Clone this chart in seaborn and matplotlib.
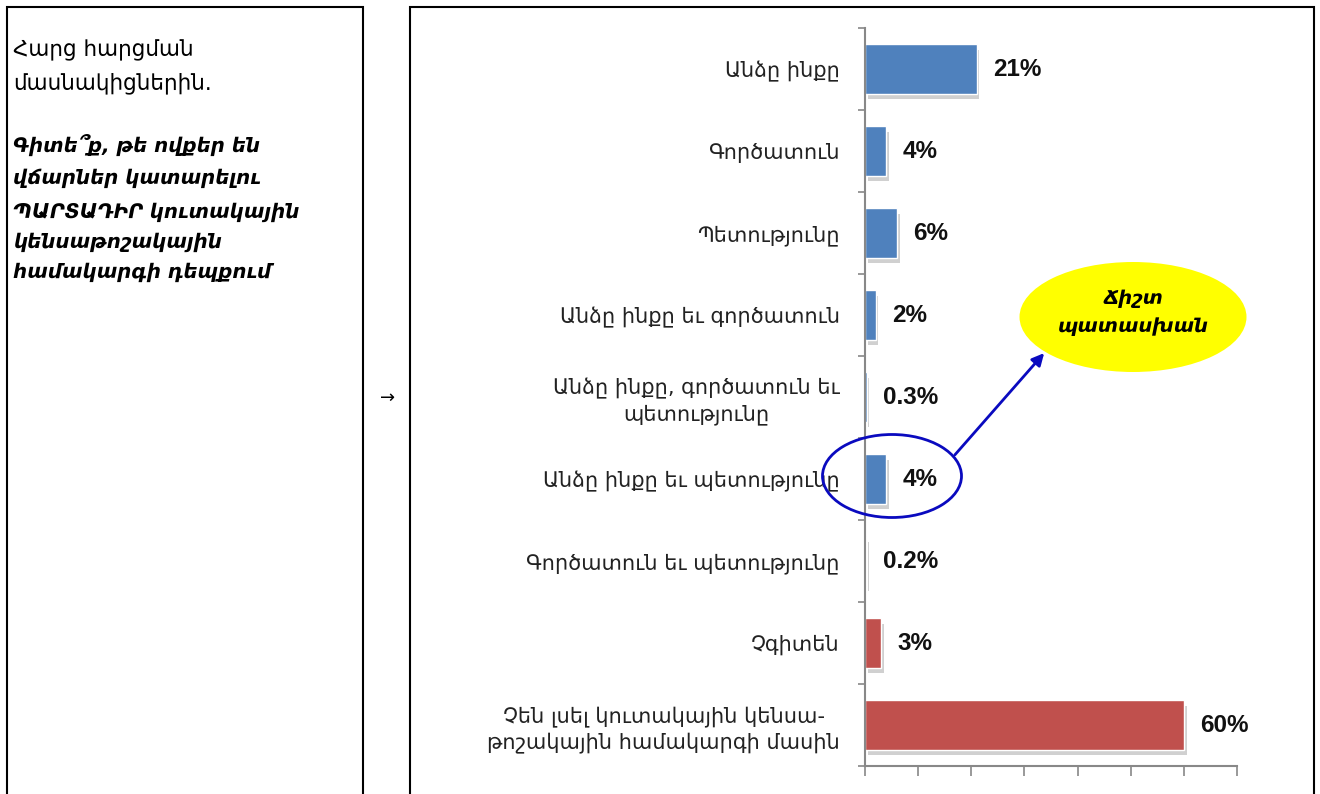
import matplotlib
matplotlib.use("Agg")
import matplotlib.pyplot as plt
import matplotlib.patheffects as pe
from matplotlib.patches import Rectangle, Ellipse, FancyArrowPatch
import seaborn as sns
import pandas as pd
import numpy as np

# ---- data ----
categories = [
    "Անձը ինքը",
    "Գործատուն",
    "Պետությունը",
    "Անձը ինքը եւ գործատուն",
    "Անձը ինքը, գործատուն եւ\nպետությունը",
    "Անձը ինքը եւ պետությունը",
    "Գործատուն եւ պետությունը",
    "Չգիտեն",
    "Չեն լսել կուտակային կենսա-\nթոշակային համակարգի մասին",
]
values = [21, 4, 6, 2, 0.3, 4, 0.2, 3, 60]
bar_colors = ["#4F81BD"] * 7 + ["#C0504D"] * 2

intro_lines = ["Հարց հարցման", "մասնակիցներին."]
question_lines = ["Գիտե՞ք, թե ովքեր են", "վճարներ կատարելու",
                  "ՊԱՐՏԱԴԻՐ կուտակային", "կենսաթոշակային",
                  "համակարգի դեպքում"]
callout_lines = ["Ճիշտ", "պատասխան"]

sns.set_theme(style="white")
plt.rcParams["font.family"] = ["DejaVu Sans"]

W, H = 1320, 794
fig = plt.figure(figsize=(W / 100, H / 100), dpi=100)

def fx(x):
    return x / W

def fy(y):
    return 1 - y / H

ax_l, ax_r, ax_t, ax_b = 865, 1237, 28, 766
ax = fig.add_axes([fx(ax_l), fy(ax_b), (ax_r - ax_l) / W, (ax_b - ax_t) / H])

df = pd.DataFrame({"cat": categories, "val": values})
sns.barplot(data=df, x="val", y="cat", hue="cat", palette=bar_colors,
            legend=False, orient="h", width=0.6, ax=ax, saturation=1)

for p in ax.patches:
    p.set_path_effects([pe.SimplePatchShadow(offset=(2, -4), shadow_rgbFace="#8a8a8a", alpha=0.4),
                        pe.Normal()])

ax.set_xlim(0, 70)
ax.set_ylim(len(categories) - 0.5, -0.5)
ax.set_xlabel("")
ax.set_ylabel("")
ax.set_xticks(np.arange(0, 71, 10))
ax.set_xticklabels([])
ax.set_yticks(range(len(categories)))
ax.set_yticklabels(categories, fontsize=15, color="#222222",
                   multialignment="center", linespacing=1.3)
ax.set_yticks(np.arange(-0.5, len(categories), 1), minor=True)
ax.tick_params(axis="y", which="major", length=0, pad=18)
ax.tick_params(axis="y", which="minor", length=5, width=1.2, color="#888888", left=True)
ax.tick_params(axis="x", which="major", length=7, width=1.2, color="#888888", bottom=True)
for s in ["top", "right"]:
    ax.spines[s].set_visible(False)
for s in ["left", "bottom"]:
    ax.spines[s].set_color("#888888")
    ax.spines[s].set_linewidth(1.5)
ax.set_facecolor("none")

for i, v in enumerate(values):
    ax.annotate(f"{v:g}%", xy=(v, i), xytext=(12, 0), textcoords="offset points",
                ha="left", va="center", fontsize=17.5, fontweight="bold",
                family="Liberation Sans", color="#111111")

# ---- frames ----
fig.add_artist(Rectangle((fx(7), -0.1), fx(363) - fx(7), fy(7) + 0.1,
                         transform=fig.transFigure, fill=False, lw=1.5, ec="black"))
fig.add_artist(Rectangle((fx(410), -0.1), fx(1314) - fx(410), fy(7) + 0.1,
                         transform=fig.transFigure, fill=False, lw=1.5, ec="black"))

# ---- left text ----
for line, y in zip(intro_lines, [50, 83]):
    fig.text(fx(13), fy(y), line, fontsize=15.5, ha="left", va="center", color="black")
for line, y in zip(question_lines, [145, 178, 212, 242, 272]):
    fig.text(fx(13), fy(y), line, fontsize=14.2, ha="left", va="center",
             fontweight="bold", style="italic", color="black")

fig.text(fx(388), fy(398), "→", fontsize=13, ha="center", va="center", color="black")

# ---- callouts ----
fig.add_artist(Ellipse((fx(892), fy(476)), 139 / W, 83 / H, transform=fig.transFigure,
                       fill=False, ec="#0A0ABF", lw=2))
fig.add_artist(Ellipse((fx(1133), fy(317)), 227 / W, 110 / H, transform=fig.transFigure,
                       fc="#FFFF00", ec="none"))
fig.add_artist(FancyArrowPatch((fx(953), fy(457)), (fx(1046), fy(351)),
                               transform=fig.transFigure, arrowstyle="-|>",
                               mutation_scale=18, color="#0A0ABF", lw=2))
for line, y in zip(callout_lines, [299, 327]):
    fig.text(fx(1133), fy(y), line, fontsize=14, ha="center", va="center",
             fontweight="bold", style="italic", color="black")

fig.savefig("out.png", dpi=100)
